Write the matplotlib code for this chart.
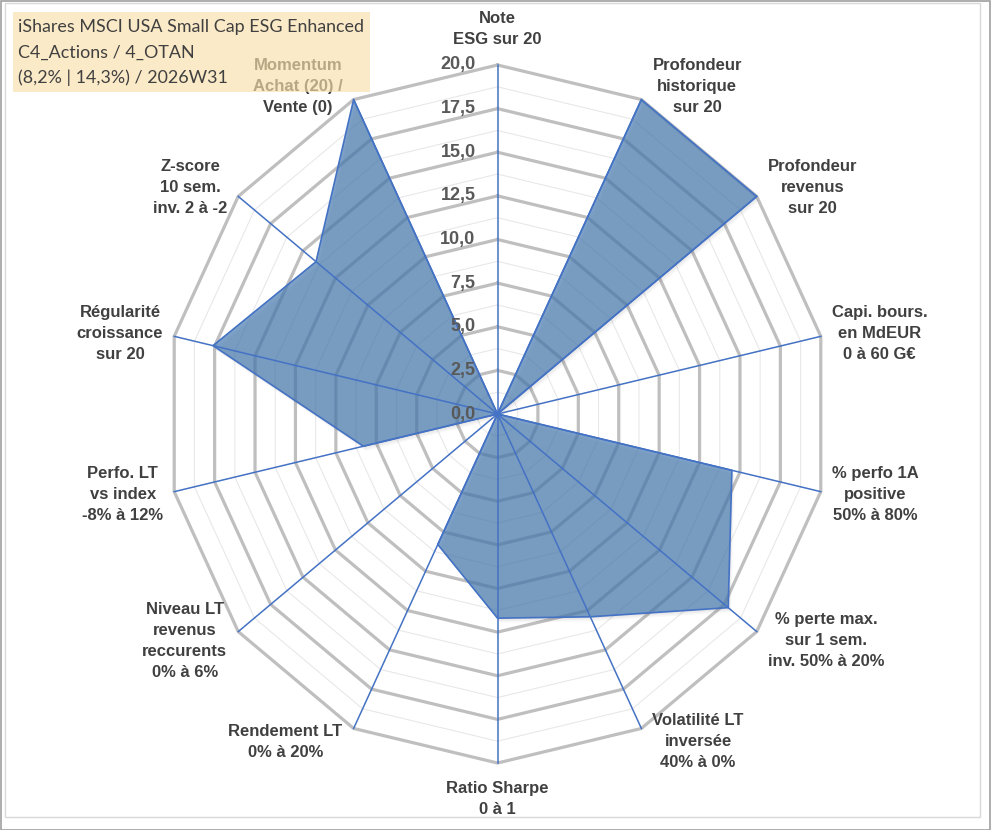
import matplotlib.pyplot as plt
import matplotlib.patches as mpatches
import matplotlib.transforms as mtransforms
import numpy as np

# axes of the radar, clockwise from the top
labels = [
    "Note\nESG sur 20",
    "Profondeur\nhistorique\nsur 20",
    "Profondeur\nrevenus\nsur 20",
    "Capi. bours.\nen MdEUR\n0 à 60 G€",
    "% perfo 1A\npositive\n50% à 80%",
    "% perte max.\nsur 1 sem.\ninv. 50% à 20%",
    "Volatilité LT\ninversée\n40% à 0%",
    "Ratio Sharpe\n0 à 1",
    "Rendement LT\n0% à 20%",
    "Niveau LT\nrevenus\nreccurents\n0% à 6%",
    "Perfo. LT\nvs index\n-8% à 12%",
    "Régularité\ncroissance\nsur 20",
    "Z-score\n10 sem.\ninv. 2 à -2",
    "Momentum\nAchat (20) /\nVente (0)",
]
values = [0, 20, 20, 0, 14.5, 17.8, 12.9, 11.7, 8.3, 0, 8.3, 17.6, 14.0, 20]
ring_ticks = [0, 2.5, 5, 7.5, 10, 12.5, 15, 17.5, 20]
tick_labels = ["0,0", "2,5", "5,0", "7,5", "10,0", "12,5", "15,0", "17,5", "20,0"]
title_lines = ["iShares MSCI USA Small Cap ESG Enhanced",
               "C4_Actions / 4_OTAN",
               "(8,2% | 14,3%) / 2026W31"]

W, H = 991, 830
cx, cy = 497.5, 414          # centre in pixels (from top)
px_x, px_y = 16.58, 17.45    # pixels per unit (picture is slightly squeezed)

fig = plt.figure(figsize=(W / 100, H / 100), dpi=100)
ax = fig.add_axes([0, 0, 1, 1])
ax.set_xlim(-cx / px_x, (W - cx) / px_x)
ax.set_ylim(-(H - cy) / px_y, cy / px_y)
ax.axis("off")

n = len(labels)
theta = np.arange(n) * 2 * np.pi / n
sx, cy_ = np.sin(theta), np.cos(theta)
rmax = ring_ticks[-1]

def ring(r):
    xs = np.append(r * sx, r * sx[0])
    ys = np.append(r * cy_, r * cy_[0])
    return xs, ys

# minor rings
for r in np.arange(1.25, rmax, 2.5):
    xs, ys = ring(r)
    ax.plot(xs, ys, color="#E8E8E8", lw=0.8, zorder=1)
# major rings
for r in ring_ticks[1:]:
    xs, ys = ring(r)
    ax.plot(xs, ys, color="#BFBFBF", lw=2.3, zorder=2, solid_joinstyle="miter")

# data polygon with a soft shadow
vx = np.array(values) * sx
vy = np.array(values) * cy_
for k, a in [(1.5, 0.04), (3, 0.035), (4.5, 0.03)]:
    tr = mtransforms.offset_copy(ax.transData, fig=fig, x=k * 0.6, y=-k, units="dots")
    ax.fill(vx, vy, color="black", alpha=a, lw=0, zorder=3, transform=tr)
ax.fill(vx, vy, color="#4A7CB2", alpha=0.7, lw=0, zorder=4)
ax.plot(np.append(vx, vx[0]), np.append(vy, vy[0]), color="#4472C4", lw=1.2, zorder=5)

# spokes
for i in range(n):
    ax.plot([0, rmax * sx[i]], [0, rmax * cy_[i]], color="#4472C4", lw=1.1, zorder=6)

# radial tick labels along the top spoke
for r, t in zip(ring_ticks, tick_labels):
    ax.annotate(t, xy=(0, r), xytext=(-22, 0), textcoords="offset pixels",
                ha="right", va="center", fontsize=13, fontweight="bold",
                color="#595959", family="Liberation Sans", zorder=7)

# category labels
for i, lab in enumerate(labels):
    s, c = sx[i], cy_[i]
    if abs(s) < 0.1:
        ha, va = "center", ("bottom" if c > 0 else "top")
        off = (0, 18 if c > 0 else -18)
    else:
        ha, va = ("left" if s > 0 else "right"), "center"
        off = (11 if s > 0 else -11, 15 * c)
    ax.annotate(lab, xy=(rmax * s, rmax * c), xytext=off, textcoords="offset pixels",
                ha=ha, va=va, ma="center", fontsize=12, fontweight="bold",
                color="#404040", family="Liberation Sans", linespacing=1.5, zorder=7)

# title box (semi transparent, over the labels)
ax.add_patch(mpatches.Rectangle((13 / W, 1 - 92 / H), 357 / W, 80 / H,
                                transform=ax.transAxes, facecolor="#FADFA9",
                                alpha=0.65, lw=0, zorder=8))
for i, line in enumerate(title_lines):
    ax.text(18 / W, 1 - (27 + i * 25.5) / H, line, transform=ax.transAxes,
            ha="left", va="center", fontsize=12.9, color="#404040",
            family="Lato", zorder=9)

# chart area and picture borders
ax.add_patch(mpatches.Rectangle((5 / W, 1 - 817 / H), 975 / W, 814 / H,
                                transform=ax.transAxes, fill=False,
                                edgecolor="#D9D9D9", lw=1, zorder=10))
ax.add_patch(mpatches.Rectangle((0.5 / W, 0.5 / H), (W - 1.5) / W, (H - 1.5) / H,
                                transform=ax.transAxes, fill=False,
                                edgecolor="#A0A0A0", lw=1.2, zorder=10))

fig.savefig("out.png", dpi=100)
